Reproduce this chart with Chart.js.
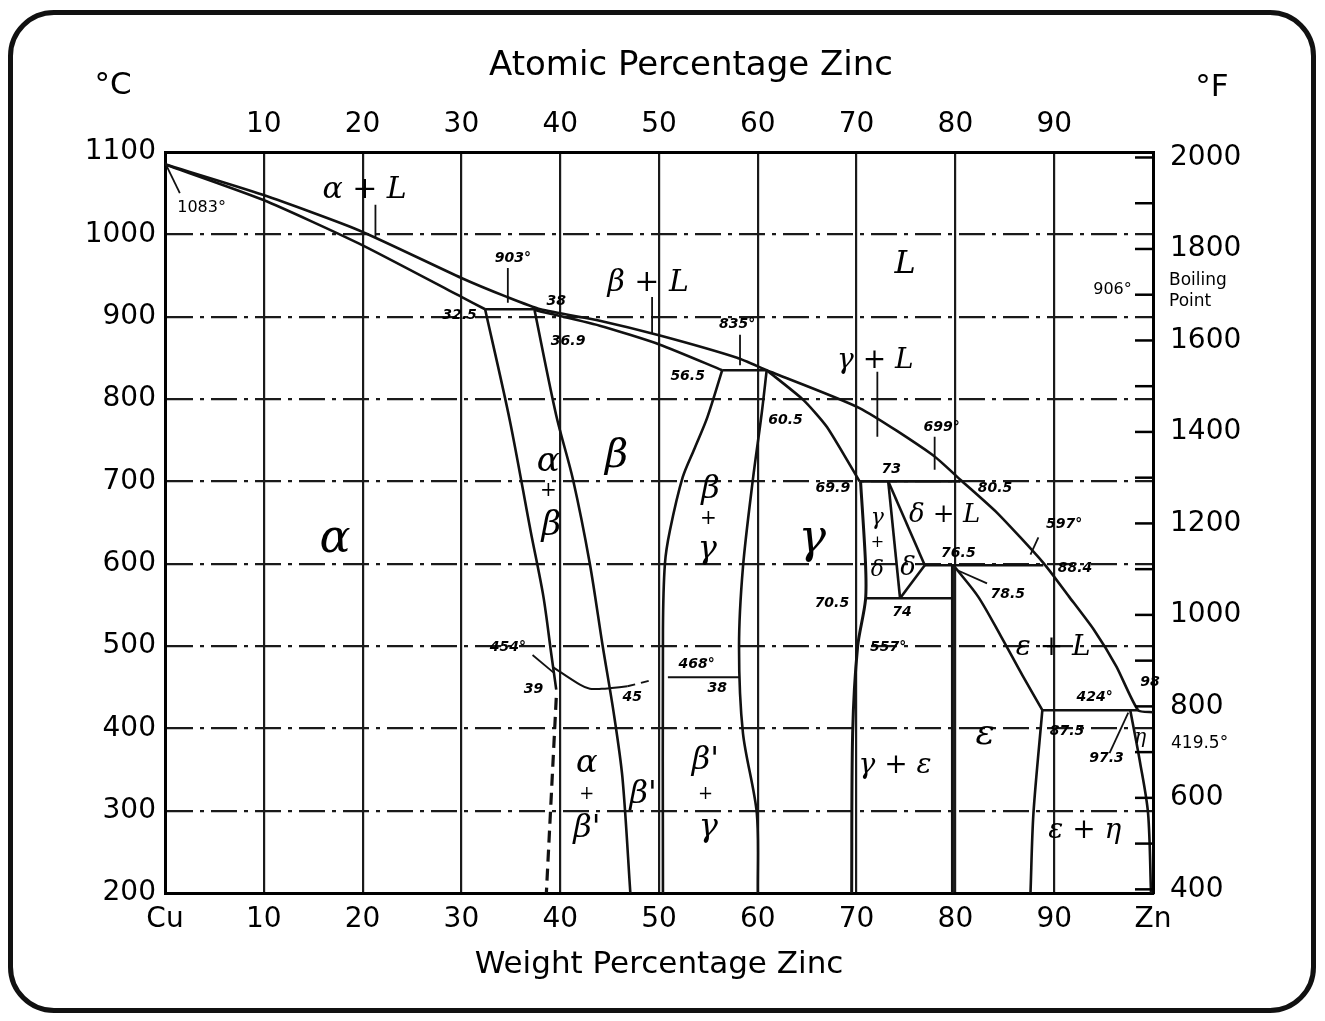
<!DOCTYPE html>
<html lang="en">
<head>
<meta charset="UTF-8">
<title>Copper-Zinc Phase Diagram</title>
<script src="https://cdn.jsdelivr.net/npm/chart.js"></script>
<style>
  body { margin: 0; background: #fff; }
  .frame { position: absolute; left: 8px; top: 10px; width: 1298px; height: 993px; border: 5px solid #111; border-radius: 46px; }
  #phaseChart { position: absolute; left: 0; top: 0; }
</style>
</head>
<body>
<div class="frame"></div>
<canvas id="phaseChart" width="1325" height="1021"></canvas>
<script>
// axis ticks
const weightTicks = [0, 10, 20, 30, 40, 50, 60, 70, 80, 90, 100];
const atomicTicks = [10, 20, 30, 40, 50, 60, 70, 80, 90];
const fahrenheitLabels = [400, 600, 800, 1000, 1200, 1400, 1600, 1800, 2000];
const fahrenheitMarks = [400, 500, 600, 700, 800, 900, 1000, 1100, 1200, 1300, 1400, 1500, 1600, 1700, 1800, 1900, 2000];

// phase boundaries: weight % Zn vs °C
const liquidusWt = [0, 9.9, 19.6, 30, 34.6, 38, 44, 50.1, 57.9, 60.9, 70.3, 77.7, 80.5, 84.2, 88.9, 91.5, 94, 96.3, 98.5, 100];
const liquidusC  = [1085, 1048, 1005, 947, 924, 909, 895, 877, 850, 835, 789, 732, 702, 662, 601, 560, 520, 475, 422, 419.5];
const alphaSolidusWt = [0, 9.9, 19.6, 30, 32.4];
const alphaSolidusC  = [1085, 1042, 989, 924, 909];
const plateau903Wt = [32.4, 38];
const plateau903C  = [909, 909];
const alphaSolvusWt = [32.4, 34.9, 37.0, 38.3, 39.1, 39.6];
const alphaSolvusC  = [909, 774, 640, 560, 490, 447];
const alphaSolvusLowWt = [39.6, 38.6];
const alphaSolvusLowC  = [437, 200];
const betaSolidusWt = [37.4, 44, 50.1, 56.4];
const betaSolidusC  = [908, 889, 866, 835];
const betaLeftWt = [37.4, 39.6, 41.3, 43.0, 44.3, 45.4, 46.3, 47.1];
const betaLeftC  = [908, 780, 702, 600, 500, 420, 340, 200];
const plateau835Wt = [56.4, 60.9];
const plateau835C  = [835, 835];
const betaRightWt = [56.4, 54.9, 53.6, 52.4, 51.1, 50.6, 50.4, 50.4];
const betaRightC  = [835, 778, 740, 705, 640, 600, 520, 200];
const gammaLeftWt = [60.9, 60.4, 59.5, 58.5, 58.1, 58.5, 59.9, 60.0];
const gammaLeftC  = [835, 783, 702, 596, 499, 394, 297, 200];
const gammaSolidusWt = [60.9, 64.6, 67, 70.3];
const gammaSolidusC  = [835, 799, 766, 700];
const plateau700Wt = [70.3, 80.5];
const plateau700C  = [700, 700];
const gammaRightWt = [70.4, 70.9, 70.9, 70.1, 69.6, 69.5];
const gammaRightC  = [700, 601, 556, 499, 394, 200];
const deltaLeftWt = [73.2, 74.4];
const deltaLeftC  = [700, 558];
const deltaRightWt = [73.2, 76.9];
const deltaRightC  = [700, 598];
const deltaLowWt = [74.4, 76.9];
const deltaLowC  = [558, 598];
const plateau558Wt = [70.9, 79.7];
const plateau558C  = [558, 558];
const plateau598Wt = [76.9, 88.9];
const plateau598C  = [598, 598];
const epsilonLeftWt = [79.7, 79.7];
const epsilonLeftC  = [598, 200];
const epsilonSolidusWt = [80, 82.3, 84.6, 86.8, 88.8];
const epsilonSolidusC  = [595, 560, 512, 464, 422];
const plateau424Wt = [88.8, 98.5];
const plateau424C  = [422, 422];
const epsilonLowWt = [88.8, 87.9, 87.6];
const epsilonLowC  = [422, 297, 200];
const etaWt = [97.7, 98.7, 99.5, 99.8];
const etaC  = [422, 358, 297, 200];
const betaPrimeWt = [39.3, 42, 43, 44.2, 45.2, 46.8];
const betaPrimeC  = [474, 453, 448, 448, 449, 451];
const betaPrimeDashWt = [46.8, 49.4];
const betaPrimeDashC  = [451, 459];
const line468Wt = [50.9, 58.2];
const line468C  = [462, 462];

// pointer lines from labels to the curves
const leaderWt = [[21.3, 21.3], [49.3, 49.3], [72.1, 72.1], [34.7, 34.7], [58.2, 58.2], [77.9, 77.9],
                  [88.4, 87.6], [37.2, 39.3], [1.5, 0], [80.2, 83.2], [95.6, 97.5]];
const leaderC  = [[1036, 996], [924, 880], [833, 754], [959, 917], [878, 841], [754, 714],
                  [632, 611], [489, 468], [1050, 1087], [592, 576], [370, 419]];

// text: [text, wt %, °C, size]
const regionLabels = [
  ['α + L', 20.2, 1054, 30], ['β + L', 48.9, 941, 30], ['L', 74.9, 963, 32], ['γ + L', 71.9, 847, 28],
  ['α', 17.2, 629, 46],
  ['α', 38.8, 723, 34], ['+', 38.8, 688, 20], ['β', 39.1, 645, 34],
  ['β', 45.7, 730, 40],
  ['β', 55.2, 690, 32], ['+', 55.0, 655, 20], ['γ', 54.9, 617, 32],
  ['γ', 65.5, 629, 46],
  ['γ', 72.1, 655, 22], ['+', 72.1, 625, 16], ['δ', 72.1, 592, 22],
  ['δ', 75.2, 595, 26], ['δ + L', 78.9, 659, 26],
  ['ε + L', 89.9, 498, 28], ['ε', 83.0, 392, 36], ['γ + ε', 73.9, 355, 28],
  ['ε + η', 93.1, 276, 28], ['η', 98.7, 388, 20],
  ['α', 42.7, 357, 32], ['+', 42.7, 320, 18], ["β'", 42.7, 278, 32],
  ["β'", 48.4, 319, 32],
  ["β'", 54.7, 361, 32], ['+', 54.7, 320, 18], ['γ', 55.0, 279, 32]
];
const pointLabels = [
  ['903°', 35.2, 971], ['32.5', 29.8, 901], ['38', 39.6, 919], ['36.9', 40.8, 870],
  ['835°', 57.9, 891], ['56.5', 52.9, 827], ['60.5', 62.8, 774],
  ['699°', 78.6, 765], ['73', 73.5, 714], ['69.9', 67.6, 691], ['80.5', 84.0, 692],
  ['597°', 91.0, 648], ['76.5', 80.3, 613], ['88.4', 92.1, 594], ['78.5', 85.3, 563],
  ['70.5', 67.5, 552], ['74', 74.6, 541], ['557°', 73.2, 498],
  ['454°', 34.7, 498], ['39', 37.3, 447], ['45', 47.3, 438], ['468°', 53.8, 478], ['38', 55.9, 449],
  ['424°', 94.1, 438], ['87.5', 91.3, 396], ['97.3', 95.3, 364], ['98', 99.7, 456]
];
const printedLabels = [['1083°', 3.7, 1032], ['906°', 95.9, 932]];

function pts(wt, c) {
  return wt.map((w, i) => ({ x: w, y: c[i] }));
}
function boundary(wt, c, extra) {
  return Object.assign({
    data: pts(wt, c), borderColor: '#111', borderWidth: 2.6,
    pointRadius: 0, tension: 0, fill: false
  }, extra || {});
}

const datasets = [
  boundary(liquidusWt, liquidusC, { tension: 0.2 }),
  boundary(alphaSolidusWt, alphaSolidusC, { tension: 0.2 }),
  boundary(plateau903Wt, plateau903C),
  boundary(alphaSolvusWt, alphaSolvusC, { tension: 0.3 }),
  boundary(alphaSolvusLowWt, alphaSolvusLowC, { borderDash: [12, 7], borderWidth: 3.2 }),
  boundary(betaSolidusWt, betaSolidusC, { tension: 0.2 }),
  boundary(betaLeftWt, betaLeftC, { tension: 0.3 }),
  boundary(plateau835Wt, plateau835C),
  boundary(betaRightWt, betaRightC, { tension: 0.3 }),
  boundary(gammaLeftWt, gammaLeftC, { tension: 0.3 }),
  boundary(gammaSolidusWt, gammaSolidusC, { tension: 0.2 }),
  boundary(plateau700Wt, plateau700C),
  boundary(gammaRightWt, gammaRightC, { tension: 0.3, borderWidth: 3 }),
  boundary(deltaLeftWt, deltaLeftC),
  boundary(deltaRightWt, deltaRightC),
  boundary(deltaLowWt, deltaLowC),
  boundary(plateau558Wt, plateau558C),
  boundary(plateau598Wt, plateau598C),
  boundary(epsilonLeftWt, epsilonLeftC, { borderWidth: 3 }),
  boundary(epsilonSolidusWt, epsilonSolidusC, { tension: 0.3 }),
  boundary(plateau424Wt, plateau424C),
  boundary(epsilonLowWt, epsilonLowC, { tension: 0.3 }),
  boundary(etaWt, etaC, { tension: 0.3 }),
  boundary(betaPrimeWt, betaPrimeC, { tension: 0.3, borderWidth: 2 }),
  boundary(betaPrimeDashWt, betaPrimeDashC, { borderDash: [8, 6], borderWidth: 2 }),
  boundary(line468Wt, line468C, { borderWidth: 2 })
];
leaderWt.forEach((wt, i) => datasets.push(boundary(wt, leaderC[i], { borderWidth: 1.8 })));

const tickFont = { family: 'DejaVu Sans', size: 28 };

const phaseText = {
  id: 'phaseText',
  afterDraw(chart) {
    const { ctx, chartArea, scales: { x, y, y2 } } = chart;
    ctx.save();
    ctx.fillStyle = '#000';
    ctx.strokeStyle = '#000';

    // inward ticks on the °F side
    ctx.lineWidth = 2.5;
    fahrenheitMarks.forEach(f => {
      const py = y2.getPixelForValue((f - 32) * 5 / 9);
      ctx.beginPath();
      ctx.moveTo(chartArea.right - 18, py);
      ctx.lineTo(chartArea.right, py);
      ctx.stroke();
    });

    ctx.textAlign = 'center';
    ctx.textBaseline = 'middle';
    regionLabels.forEach(([t, wt, c, size]) => {
      ctx.font = `italic ${size}px "DejaVu Serif"`;
      ctx.fillText(t, x.getPixelForValue(wt), y.getPixelForValue(c));
    });
    ctx.font = 'bold italic 14px "DejaVu Sans"';
    pointLabels.forEach(([t, wt, c]) => {
      ctx.fillText(t, x.getPixelForValue(wt), y.getPixelForValue(c));
    });
    ctx.font = '16px "DejaVu Sans"';
    printedLabels.forEach(([t, wt, c]) => {
      ctx.fillText(t, x.getPixelForValue(wt), y.getPixelForValue(c));
    });

    // labels outside the right edge
    ctx.textAlign = 'left';
    ctx.font = '17px "DejaVu Sans"';
    ctx.fillText('Boiling', chartArea.right + 16, y.getPixelForValue(944));
    ctx.fillText('Point', chartArea.right + 16, y.getPixelForValue(918));
    ctx.fillText('419.5°', chartArea.right + 18, y.getPixelForValue(382));

    // titles and unit marks
    ctx.textAlign = 'center';
    ctx.font = '34px "DejaVu Sans"';
    ctx.fillText('Atomic Percentage Zinc', 691, 66);
    ctx.font = '31px "DejaVu Sans"';
    ctx.fillText('°C', 113, 86);
    ctx.fillText('°F', 1212, 88);
    ctx.restore();
  }
};

new Chart(document.getElementById('phaseChart'), {
  type: 'line',
  data: { datasets: datasets },
  plugins: [phaseText],
  options: {
    responsive: false,
    animation: false,
    layout: { padding: 0 },
    plugins: { legend: { display: false }, tooltip: { enabled: false } },
    scales: {
      x: {
        type: 'linear', position: 'bottom', min: 0, max: 100,
        afterBuildTicks: s => { s.ticks = weightTicks.map(v => ({ value: v })); },
        ticks: {
          callback: v => v === 0 ? 'Cu' : v === 100 ? 'Zn' : String(v),
          font: tickFont, color: '#000', padding: 10, maxRotation: 0, autoSkip: false
        },
        grid: { color: '#1a1a1a', lineWidth: 2.2, drawTicks: false },
        border: { color: '#000', width: 3 },
        title: {
          display: true, text: 'Weight Percentage Zinc', color: '#000',
          font: { family: 'DejaVu Sans', size: 31 }, padding: { top: 0, bottom: 37 }
        },
        afterFit: s => { s.height = 128; }
      },
      x2: {
        type: 'linear', position: 'top', min: 0, max: 100,
        afterBuildTicks: s => { s.ticks = atomicTicks.map(v => ({ value: v })); },
        ticks: { callback: v => String(v), font: tickFont, color: '#000', padding: 10, maxRotation: 0, autoSkip: false },
        grid: { drawOnChartArea: false, drawTicks: false },
        border: { color: '#000', width: 3 },
        afterFit: s => { s.height = 152; }
      },
      y: {
        type: 'linear', position: 'left', min: 200, max: 1100,
        ticks: { stepSize: 100, callback: v => String(v), font: tickFont, color: '#000', padding: 9 },
        grid: { color: '#1a1a1a', lineWidth: 2.2, drawTicks: false },
        border: { color: '#000', width: 3, dash: [26, 7, 4, 7] },
        afterFit: s => { s.width = 165; }
      },
      y2: {
        type: 'linear', position: 'right', min: 200, max: 1100,
        afterBuildTicks: s => { s.ticks = fahrenheitLabels.map(f => ({ value: (f - 32) * 5 / 9 })); },
        ticks: {
          callback: v => String(Math.round(v * 9 / 5 + 32)),
          font: tickFont, color: '#000', padding: 17, autoSkip: false
        },
        grid: { drawOnChartArea: false, drawTicks: false },
        border: { color: '#000', width: 3 },
        afterFit: s => { s.width = 172; }
      }
    }
  }
});
</script>
</body>
</html>
